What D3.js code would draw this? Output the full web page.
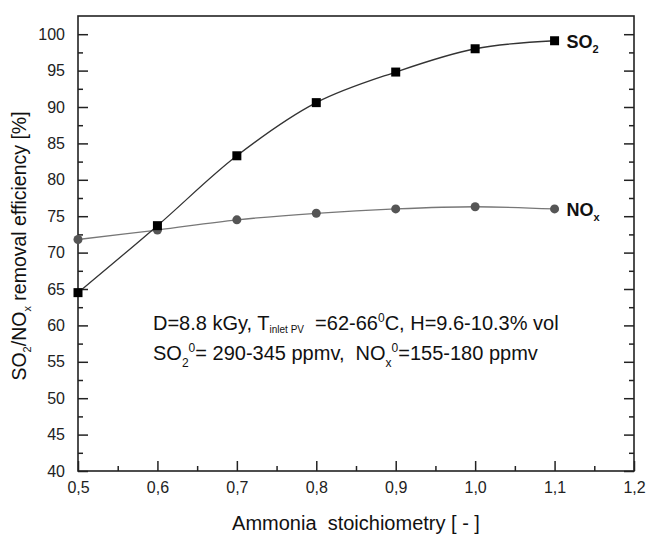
<!DOCTYPE html>
<html>
<head>
<meta charset="utf-8">
<script src="https://cdn.jsdelivr.net/npm/d3@7"></script>
<style>
  body { margin: 0; background: #fff; }
  text { font-family: "Liberation Sans", Arial, sans-serif; white-space: pre; }
</style>
</head>
<body>
<div id="myChart"></div>
<script>
// data
var stoich = [0.5, 0.6, 0.7, 0.8, 0.9, 1.0, 1.1];
var so2Eff = [64.5, 73.7, 83.3, 90.6, 94.8, 98.0, 99.1];
var noxEff = [71.8, 73.1, 74.5, 75.4, 76.0, 76.3, 76.0];
var xTicks = [0.5, 0.6, 0.7, 0.8, 0.9, 1.0, 1.1, 1.2];
var yTicks = [40, 45, 50, 55, 60, 65, 70, 75, 80, 85, 90, 95, 100];

var margin = { top: 16, right: 15, bottom: 63, left: 78 },
    width = 649 - margin.left - margin.right,
    height = 534 - margin.top - margin.bottom;

var x = d3.scaleLinear().domain([0.5, 1.2]).range([0, width]);
var y = d3.scaleLinear().domain([40, 102.5]).range([height, 0]);

var svg = d3.select("#myChart")
    .append("svg")
    .attr("width", width + margin.left + margin.right)
    .attr("height", height + margin.top + margin.bottom)
    .append("g")
    .attr("transform", "translate(" + margin.left + "," + margin.top + ")");

var comma = function (d) { return d3.format(".1f")(d).replace(".", ","); };

//minor ticks
var yMinor = d3.range(42.5, 102.5, 5);
var xMinor = d3.range(0.55, 1.2, 0.1);

svg.append("g")
    .call(d3.axisLeft(y).tickValues(yMinor).tickSize(-5).tickFormat(""));
svg.append("g")
    .attr("transform", "translate(" + width + ",0)")
    .call(d3.axisRight(y).tickValues(yMinor).tickSize(-5).tickFormat(""));
svg.append("g")
    .attr("transform", "translate(0," + height + ")")
    .call(d3.axisBottom(x).tickValues(xMinor).tickSize(-5).tickFormat(""));

//major ticks
var yAxis = svg.append("g")
    .call(d3.axisLeft(y).tickValues(yTicks).tickSize(-10).tickPadding(13));
svg.append("g")
    .attr("transform", "translate(" + width + ",0)")
    .call(d3.axisRight(y).tickValues(yTicks).tickSize(-10).tickFormat(""));
var xAxis = svg.append("g")
    .attr("transform", "translate(0," + height + ")")
    .call(d3.axisBottom(x).tickValues(xTicks).tickSize(-10).tickPadding(8).tickFormat(comma));

svg.selectAll(".tick line").attr("stroke", "#222").attr("stroke-width", 1.5);
svg.selectAll(".domain").remove();
svg.selectAll(".tick text").style("font-size", "16px").attr("fill", "#222");
xAxis.selectAll(".tick text").attr("dy", "0.85em");

//frame
svg.append("rect")
    .attr("width", width)
    .attr("height", height)
    .attr("fill", "none")
    .attr("stroke", "#222")
    .attr("stroke-width", 1.6);

//lines
var so2Data = stoich.map(function (d, i) { return { x: d, v: so2Eff[i] }; });
var noxData = stoich.map(function (d, i) { return { x: d, v: noxEff[i] }; });

var line = d3.line()
    .x(function (d) { return x(d.x); })
    .y(function (d) { return y(d.v); })
    .curve(d3.curveCatmullRom.alpha(0.5));

svg.append("path").datum(noxData)
    .attr("d", line).attr("fill", "none")
    .attr("stroke", "#777").attr("stroke-width", 1.3);
svg.append("path").datum(so2Data)
    .attr("d", line).attr("fill", "none")
    .attr("stroke", "#333").attr("stroke-width", 1.3);

svg.selectAll(".nox").data(noxData).enter().append("circle")
    .attr("cx", function (d) { return x(d.x); })
    .attr("cy", function (d) { return y(d.v); })
    .attr("r", 4.5)
    .attr("fill", "#555");

svg.selectAll(".so2").data(so2Data).enter().append("rect")
    .attr("x", function (d) { return x(d.x) - 4.5; })
    .attr("y", function (d) { return y(d.v) - 4.5; })
    .attr("width", 9).attr("height", 9)
    .attr("fill", "#000");

//series labels
var so2Lab = svg.append("text")
    .attr("x", x(1.1) + 12).attr("y", y(99.1) + 7)
    .style("font-size", "18px").style("font-weight", "bold").attr("fill", "#111");
so2Lab.append("tspan").text("SO");
so2Lab.append("tspan").attr("dy", 5).style("font-size", "11px").text("2");

var noxLab = svg.append("text")
    .attr("x", x(1.1) + 12).attr("y", y(76.0) + 7)
    .style("font-size", "18px").style("font-weight", "bold").attr("fill", "#111");
noxLab.append("tspan").text("NO");
noxLab.append("tspan").attr("dy", 5).style("font-size", "11px").text("x");

//condition notes
var note1 = svg.append("text")
    .attr("x", 153 - margin.left).attr("y", 330 - margin.top)
    .style("font-size", "20px").attr("fill", "#111");
note1.append("tspan").text("D=8.8 kGy, T");
note1.append("tspan").attr("dy", 3).style("font-size", "10px").text("inlet PV");
note1.append("tspan").attr("dy", -3).text("  =62-66");
note1.append("tspan").attr("dy", -8).style("font-size", "12px").text("0");
note1.append("tspan").attr("dy", 8).text("C, H=9.6-10.3% vol");

var note2 = svg.append("text")
    .attr("x", 153 - margin.left).attr("y", 360 - margin.top)
    .style("font-size", "20px").attr("fill", "#111");
note2.append("tspan").text("SO");
note2.append("tspan").attr("dy", 7).style("font-size", "12px").text("2");
note2.append("tspan").attr("dy", -15).style("font-size", "12px").text("0");
note2.append("tspan").attr("dy", 8).text("= 290-345 ppmv,  NO");
note2.append("tspan").attr("dy", 7).style("font-size", "12px").text("x");
note2.append("tspan").attr("dy", -15).style("font-size", "12px").text("0");
note2.append("tspan").attr("dy", 8).text("=155-180 ppmv");

//axis titles
svg.append("text")
    .attr("x", width / 2 + 0).attr("y", height + 59)
    .attr("text-anchor", "middle")
    .style("font-size", "20px").attr("fill", "#111")
    .text("Ammonia  stoichiometry [ - ]");

var yTitle = svg.append("text")
    .attr("transform", "translate(" + (26 - margin.left) + "," + (246 - margin.top) + ") rotate(-90)")
    .attr("text-anchor", "middle")
    .style("font-size", "19.5px").attr("fill", "#111");
yTitle.append("tspan").text("SO");
yTitle.append("tspan").attr("dy", 5).style("font-size", "11px").text("2");
yTitle.append("tspan").attr("dy", -5).text("/NO");
yTitle.append("tspan").attr("dy", 5).style("font-size", "11px").text("x");
yTitle.append("tspan").attr("dy", -5).text(" removal efficiency [%]");
</script>
</body>
</html>
